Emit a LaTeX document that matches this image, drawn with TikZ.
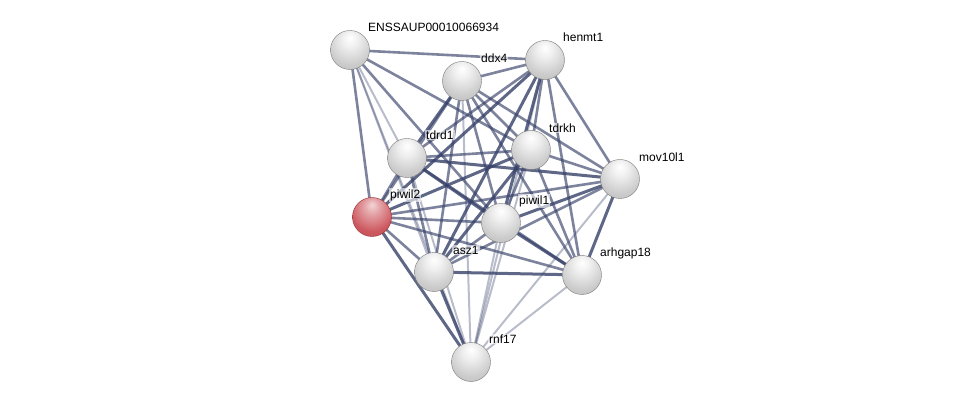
\documentclass[tikz,border=0pt]{standalone}
\usepackage{fontspec}
\setmainfont{Liberation Sans}
\definecolor{edgec}{RGB}{55,65,105}
\definecolor{redb}{RGB}{205,88,95}
\definecolor{redr}{RGB}{150,45,50}
\pgfdeclareradialshading{greyball}{\pgfpoint{0bp}{16bp}}{color(0bp)=(white); color(10bp)=(white!94!black); color(28bp)=(white!80!black); color(48bp)=(white!70!black); color(58bp)=(white!62!black); color(70bp)=(white!50!black)}
\pgfdeclareradialshading{redball}{\pgfpoint{0bp}{16bp}}{color(0bp)=(redb!25!white); color(10bp)=(redb!55!white); color(28bp)=(redb); color(48bp)=(redb!88!black); color(58bp)=(redb!75!black); color(70bp)=(redr)}
\begin{document}
\begin{tikzpicture}[x=1pt,y=-1pt,
  prot/.style={circle,minimum size=39pt,inner sep=0pt,shading=greyball,draw=white!48!black,line width=0.4pt},
  protred/.style={circle,minimum size=39pt,inner sep=0pt,shading=redball,draw=redr,line width=0.4pt},
  lbl/.style={font=\fontsize{12}{14}\selectfont,anchor=west,inner sep=1pt,fill=white,fill opacity=0.6,text opacity=1},
  ethick/.style={draw=edgec,line width=3pt,draw opacity=0.8},
  emed/.style={draw=edgec,line width=2.6pt,draw opacity=0.65},
  elight/.style={draw=edgec,line width=2pt,draw opacity=0.35}]
\useasboundingbox (0,0) rectangle (975,406);
\coordinate (E) at (350,50);
\coordinate (D) at (462,81);
\coordinate (H) at (545,60);
\coordinate (T1) at (407,158);
\coordinate (TK) at (531,150);
\coordinate (M) at (620,179);
\coordinate (P2) at (372,217);
\coordinate (P1) at (501,223);
\coordinate (A) at (434,272);
\coordinate (R) at (582,275);
\coordinate (N) at (471,362);
% edges
\draw[emed] (E) -- (H);
\draw[emed] (E) -- (TK);
\draw[emed] (E) -- (P1);
\draw[emed] (E) -- (P2);
\draw[elight] (E) -- (T1);
\draw[elight] (E) -- (A);
\draw[elight] (E) -- (N);
\draw[emed] (D) -- (H);
\draw[ethick] (D) -- (T1);
\draw[emed] (D) -- (TK);
\draw[emed] (D) -- (P1);
\draw[emed] (D) -- (P2);
\draw[emed] (D) -- (A);
\draw[emed] (D) -- (M);
\draw[emed] (D) -- (R);
\draw[elight] (D) -- (N);
\draw[emed] (H) -- (T1);
\draw[emed] (H) -- (TK);
\draw[ethick] (H) -- (P1);
\draw[ethick] (H) -- (P2);
\draw[ethick] (H) -- (A);
\draw[emed] (H) -- (M);
\draw[emed] (H) -- (R);
\draw[elight] (H) -- (N);
\draw[emed] (T1) -- (TK);
\draw[ethick] (T1) -- (P1);
\draw[emed] (T1) -- (P2);
\draw[emed] (T1) -- (A);
\draw[ethick] (T1) -- (M);
\draw[emed] (T1) -- (R);
\draw[elight] (T1) -- (N);
\draw[emed] (TK) -- (P1);
\draw[ethick] (TK) -- (P2);
\draw[ethick] (TK) -- (A);
\draw[emed] (TK) -- (M);
\draw[emed] (TK) -- (R);
\draw[elight] (TK) -- (N);
\draw[ethick] (M) -- (P1);
\draw[emed] (M) -- (P2);
\draw[emed] (M) -- (A);
\draw[ethick] (M) -- (R);
\draw[elight] (M) -- (N);
\draw[emed] (P1) -- (P2);
\draw[emed] (P1) -- (A);
\draw[ethick] (P1) -- (R);
\draw[elight] (P1) -- (N);
\draw[emed] (P2) -- (A);
\draw[emed] (P2) -- (R);
\draw[ethick] (P2) -- (N);
\draw[ethick] (A) -- (R);
\draw[ethick] (A) -- (N);
\draw[elight] (R) -- (N);
% nodes
\node[prot] (nE) at (E) {};
\node[prot] (nD) at (D) {};
\node[prot] (nH) at (H) {};
\node[prot] (nT1) at (T1) {};
\node[prot] (nTK) at (TK) {};
\node[prot] (nM) at (M) {};
\node[protred] (nP2) at (P2) {};
\node[prot] (nP1) at (P1) {};
\node[prot] (nA) at (A) {};
\node[prot] (nR) at (R) {};
\node[prot] (nN) at (N) {};
% labels
\node[lbl] (lE) at ([shift={(17,-23)}]E) {ENSSAUP00010066934};
\node[lbl] (lD) at ([shift={(18,-23)}]D) {ddx4};
\node[lbl] (lH) at ([shift={(17,-23)}]H) {henmt1};
\node[lbl] (lT1) at ([shift={(18,-23)}]T1) {tdrd1};
\node[lbl] (lTK) at ([shift={(17,-22)}]TK) {tdrkh};
\node[lbl] (lM) at ([shift={(18,-22)}]M) {mov10l1};
\node[lbl] (lP2) at ([shift={(17,-22)}]P2) {piwil2};
\node[lbl] (lP1) at ([shift={(17,-22)}]P1) {piwil1};
\node[lbl] (lA) at ([shift={(18,-22)}]A) {asz1};
\node[lbl] (lR) at ([shift={(17,-22)}]R) {arhgap18};
\node[lbl] (lN) at ([shift={(17,-23)}]N) {rnf17};
\end{tikzpicture}
\end{document}
